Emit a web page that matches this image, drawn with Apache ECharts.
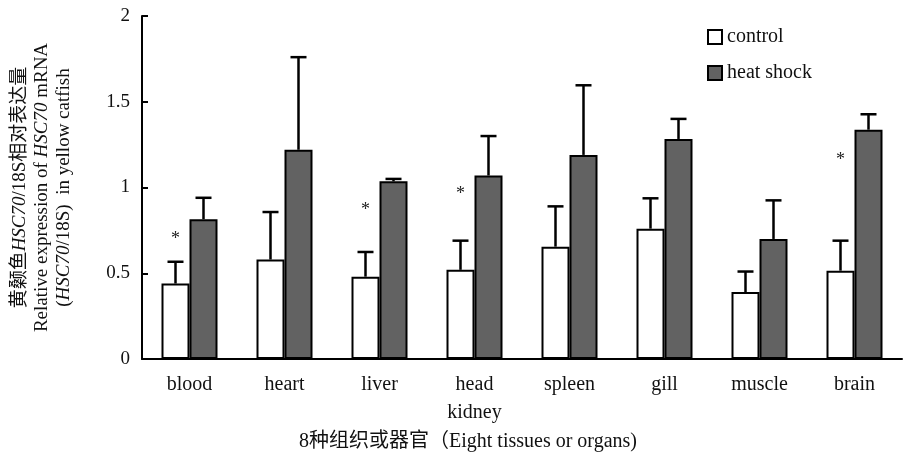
<!DOCTYPE html>
<html><head><meta charset="utf-8">
<script src="https://cdn.jsdelivr.net/npm/echarts@6/dist/echarts.min.js"></script>
<style>html,body{margin:0;padding:0;background:#fff}#c{width:904px;height:464px}</style>
</head><body><div id="c"></div>
<script>
const categories = ['blood', 'heart', 'liver', 'head\nkidney', 'spleen', 'gill', 'muscle', 'brain'];
const controlMean = [0.44, 0.58, 0.48, 0.52, 0.655, 0.76, 0.39, 0.515];
const controlErrTop = [0.567, 0.857, 0.624, 0.69, 0.89, 0.937, 0.51, 0.69];
const heatMean = [0.815, 1.22, 1.036, 1.07, 1.19, 1.283, 0.70, 1.337];
const heatErrTop = [0.94, 1.76, 1.05, 1.30, 1.596, 1.40, 0.925, 1.427];
const starY = [0.70, null, 0.87, 0.96, null, null, null, 1.16];
const yTicks = [0, 0.5, 1, 1.5, 2];

const FONT = '"Liberation Serif","Times New Roman","Noto Sans CJK SC",serif';
const BAR_W = 28;

function errRender(offset) {
  return function (params, api) {
    const idx = api.value(0);
    const p0 = api.coord([idx, api.value(1)]);
    const p1 = api.coord([idx, api.value(2)]);
    const x = p0[0] + offset;
    const half = 8;
    return {
      type: 'group',
      children: [
        { type: 'line', shape: { x1: x, y1: p0[1], x2: x, y2: p1[1] }, style: { stroke: '#000', lineWidth: 2.5 } },
        { type: 'line', shape: { x1: x - half, y1: p1[1], x2: x + half, y2: p1[1] }, style: { stroke: '#000', lineWidth: 2.5 } }
      ]
    };
  };
}

const chart = echarts.init(document.getElementById('c'));
chart.setOption({
  animation: false,
  backgroundColor: '#fff',
  textStyle: { fontFamily: FONT },
  grid: { left: 142, right: 2, top: 16, bottom: 105, containLabel: false, outerBoundsMode: 'none' },
  legend: {
    orient: 'vertical', left: 702, top: 22, itemWidth: 14, itemHeight: 14, itemGap: 16,
    icon: 'rect',
    textStyle: { fontFamily: FONT, fontSize: 20, color: '#111' },
    data: ['control', 'heat shock']
  },
  xAxis: {
    type: 'category', data: categories,
    axisLine: { lineStyle: { color: '#000', width: 2 } },
    axisTick: { inside: true, length: 6, lineStyle: { color: '#000', width: 2 } },
    axisLabel: { fontFamily: FONT, fontSize: 20, color: '#111', margin: 12, lineHeight: 28, interval: 0 },
    name: '8种组织或器官（Eight tissues or organs)',
    nameLocation: 'middle', nameGap: 72,
    nameTextStyle: { fontFamily: FONT, fontSize: 20, color: '#111', padding: [0, 108, 0, 0] }
  },
  yAxis: {
    type: 'value', min: 0, max: 2, interval: 0.5,
    axisLine: { show: true, lineStyle: { color: '#000', width: 2 } },
    axisTick: { show: true, inside: true, length: 6, lineStyle: { color: '#000', width: 2 } },
    splitLine: { show: false },
    axisLabel: { fontFamily: FONT, fontSize: 19, color: '#111', margin: 12,
      formatter: v => (yTicks.indexOf(v) >= 0 ? String(v) : '') },
    name: '{n|黄颡鱼}{i|HSC70}{n|/18S相对表达量}\n{n|Relative expression of }{i|HSC70}{n| mRNA}\n{n|(}{i|HSC70}{n|/18S)  in yellow catfish}',
    nameLocation: 'middle', nameRotate: 90, nameGap: 67,
    nameTextStyle: {
      fontFamily: FONT, fontSize: 19, color: '#111', lineHeight: 22, align: 'center',
      rich: {
        n: { fontFamily: FONT, fontSize: 19, color: '#111', lineHeight: 22 },
        i: { fontFamily: FONT, fontSize: 19, color: '#111', fontStyle: 'italic', lineHeight: 22 }
      }
    }
  },
  series: [
    { name: 'control', type: 'bar', data: controlMean, barWidth: BAR_W, barGap: '0%',
      itemStyle: { color: '#fff', borderColor: '#000', borderWidth: 2 } },
    { name: 'heat shock', type: 'bar', data: heatMean, barWidth: BAR_W, barGap: '0%',
      itemStyle: { color: '#626262', borderColor: '#000', borderWidth: 2 } },
    { type: 'custom', renderItem: errRender(-BAR_W / 2), z: 5,
      data: controlMean.map((v, i) => [i, v, controlErrTop[i]]) },
    { type: 'custom', renderItem: errRender(BAR_W / 2), z: 5,
      data: heatMean.map((v, i) => [i, v, heatErrTop[i]]) },
    { type: 'custom', z: 6,
      renderItem: function (params, api) {
        const p = api.coord([api.value(0), api.value(1)]);
        return { type: 'text', x: p[0] - BAR_W / 2, y: p[1],
          style: { text: '*', fontFamily: FONT, fontSize: 18, fill: '#222', align: 'center', verticalAlign: 'middle' } };
      },
      data: starY.map((v, i) => [i, v]).filter(d => d[1] !== null) }
  ]
});
</script></body></html>
